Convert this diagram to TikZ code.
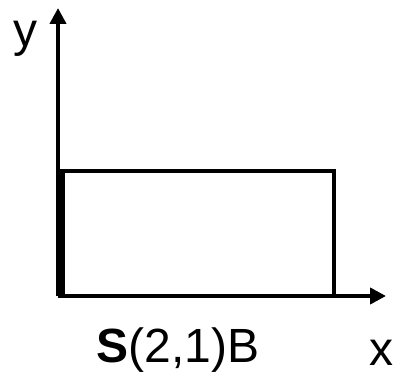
\documentclass[tikz,border=0pt]{standalone}
\usepackage{fontspec}
\setmainfont{Liberation Sans}
\usetikzlibrary{arrows.meta,positioning}
\tikzset{
  axisline/.style={line width=4.5pt,-{Triangle[length=16pt,width=16pt]}},
  boxline/.style={line width=4.5pt,line join=miter},
  axlabel/.style={font=\fontsize{48}{52}\selectfont,inner sep=0pt,anchor=base}
}
\begin{document}
\begin{tikzpicture}[x=1pt,y=1pt]
  \useasboundingbox (0,0) rectangle (395,377);

  \coordinate (org) at (58,81);
  \coordinate (ytip) at (58,369);
  \coordinate (xtip) at (386,81);

  % region S
  \draw[boxline] (62.5,81) rectangle (334,206);

  \draw[axisline] (org) -- (ytip);
  \draw[axisline] (org) -- (xtip);

  \node[axlabel] (ylab) at (25,330) {y};
  \node[axlabel] (xlab) at (381,12) {x};
  \node[axlabel] (slab) at (178,15) {\textbf{S}(2,1)B};
\end{tikzpicture}
\end{document}
